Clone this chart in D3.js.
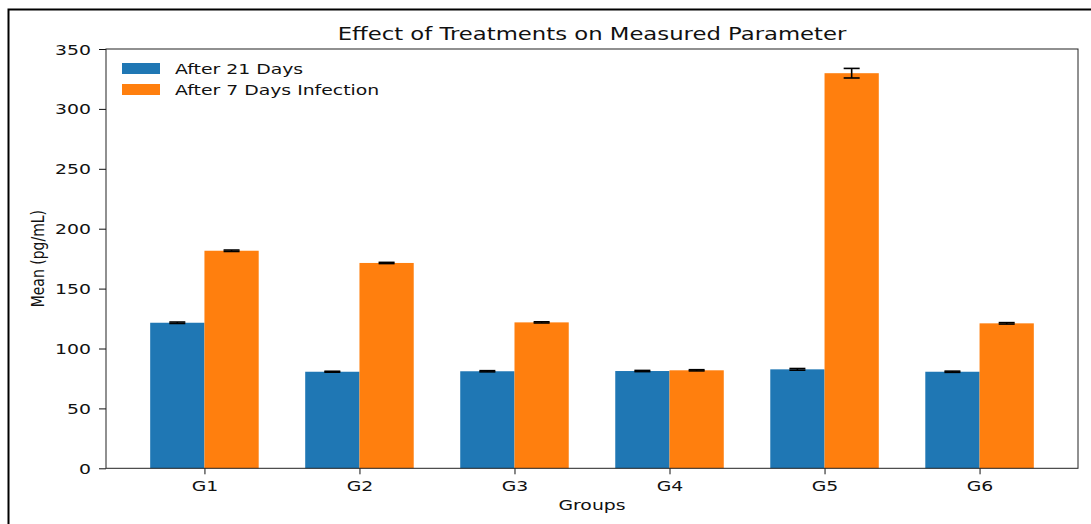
<!DOCTYPE html>
<html>
<head>
<meta charset="utf-8">
<script src="https://cdn.jsdelivr.net/npm/d3@7"></script>
<style>
  body { margin: 0; background: #fff; }
  svg { display: block; font-family: "DejaVu Sans", sans-serif; }
</style>
</head>
<body>
<svg id="chart"></svg>
<script>
// Data
var groups = ['G1', 'G2', 'G3', 'G4', 'G5', 'G6'];
var seriesNames = ['After 21 Days', 'After 7 Days Infection'];
var after21 = [121.5, 80.6, 81.0, 81.2, 82.6, 80.6];
var after21Err = [0.6, 0.4, 0.5, 0.5, 0.7, 0.5];
var after7 = [181.6, 171.4, 121.8, 81.8, 329.8, 121.0];
var after7Err = [0.6, 0.5, 0.5, 0.5, 4.0, 0.6];
var yTicks = [0, 50, 100, 150, 200, 250, 300, 350];

var colors = ['#1f77b4', '#ff7f0e'];

var W = 1091, H = 524;
var mLeft = 106, mRight = 1078, mTop = 49, mBottom = 468.3;
var barW = 0.35;
var stretch = 1.3; // the picture is wider than tall, text is stretched too

var svg = d3.select('#chart').attr('width', W).attr('height', H);

// outer border
svg.append('rect')
    .attr('x', 8.5).attr('y', 9.5)
    .attr('width', W + 10).attr('height', H + 10)
    .attr('fill', 'none').attr('stroke', '#000').attr('stroke-width', 2);

var x = d3.scaleLinear()
    .domain([-0.635, groups.length - 1 + 0.635])
    .range([mLeft, mRight]);
var y = d3.scaleLinear()
    .domain([0, 350])
    .range([mBottom, mTop]);

function addText(parent, tx, ty, str, size, anchor, rot) {
    return parent.append('text')
        .attr('transform', 'translate(' + tx + ',' + ty + ') scale(' + stretch + ',1)' + (rot ? ' rotate(' + rot + ')' : ''))
        .attr('text-anchor', anchor || 'start')
        .attr('font-size', size)
        .attr('fill', '#111')
        .text(str);
}

var series = [
    { name: seriesNames[0], vals: after21, err: after21Err, off: -barW / 2 },
    { name: seriesNames[1], vals: after7, err: after7Err, off: barW / 2 }
];

var bw = x(barW) - x(0);

series.forEach(function(s, si) {
    svg.append('g').selectAll('rect')
        .data(s.vals)
        .enter()
        .append('rect')
        .attr('x', function(d, i) { return x(i + s.off) - bw / 2; })
        .attr('y', function(d) { return y(d); })
        .attr('width', bw)
        .attr('height', function(d) { return y(0) - y(d); })
        .attr('fill', colors[si]);
});

// error bars
series.forEach(function(s) {
    var g = svg.append('g').attr('stroke', '#000').attr('stroke-width', 1.6);
    s.vals.forEach(function(d, i) {
        var cx = x(i + s.off);
        var y1 = y(d - s.err[i]), y2 = y(d + s.err[i]);
        g.append('line').attr('x1', cx).attr('x2', cx).attr('y1', y1).attr('y2', y2);
        g.append('line').attr('x1', cx - 8).attr('x2', cx + 8).attr('y1', y1).attr('y2', y1);
        g.append('line').attr('x1', cx - 8).attr('x2', cx + 8).attr('y1', y2).attr('y2', y2);
    });
});

// axes
var xAxis = d3.axisBottom(x)
    .tickValues(d3.range(groups.length))
    .tickFormat(function(d) { return groups[d]; })
    .tickSize(6);
var yAxis = d3.axisLeft(y)
    .tickValues(yTicks)
    .tickSize(7);

var gx = svg.append('g').attr('transform', 'translate(0,' + mBottom + ')').call(xAxis);
var gy = svg.append('g').attr('transform', 'translate(' + mLeft + ',0)').call(yAxis);
[gx, gy].forEach(function(g) {
    g.select('.domain').remove();
    g.selectAll('line').attr('stroke', '#111');
    g.selectAll('text')
        .attr('font-size', 14.5).attr('fill', '#111')
        .attr('font-family', '"DejaVu Sans", sans-serif');
});
gx.selectAll('text')
    .attr('y', null).attr('dy', null)
    .attr('transform', 'translate(0,23) scale(' + stretch + ',1)');
gy.selectAll('text')
    .attr('x', null).attr('dy', '0.35em')
    .attr('transform', 'translate(-15,0) scale(' + stretch + ',1)');

// frame
svg.append('rect')
    .attr('x', mLeft).attr('y', mTop)
    .attr('width', mRight - mLeft).attr('height', mBottom - mTop)
    .attr('fill', 'none').attr('stroke', '#222').attr('stroke-width', 1);

// title and labels
addText(svg, (mLeft + mRight) / 2, 40, 'Effect of Treatments on Measured Parameter', 17.5, 'middle');
addText(svg, (mLeft + mRight) / 2, 510, 'Groups', 14.5, 'middle');
addText(svg, 44, (mTop + mBottom) / 2, 'Mean (pg/mL)', 14, 'middle', -90);

// legend
var leg = svg.append('g').attr('transform', 'translate(122,62)');
seriesNames.forEach(function(n, i) {
    leg.append('rect')
        .attr('x', 0).attr('y', i * 21 + 1)
        .attr('width', 38).attr('height', 11)
        .attr('fill', colors[i]);
    addText(leg, 53, i * 21 + 12, n, 14.5, 'start');
});
</script>
</body>
</html>
